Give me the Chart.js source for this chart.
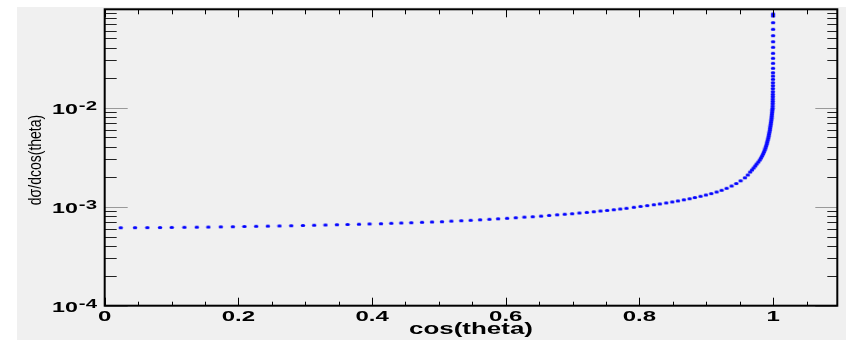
<!DOCTYPE html>
<html>
<head>
<meta charset="utf-8">
<script src="https://cdn.jsdelivr.net/npm/chart.js@4.4.1/dist/chart.umd.min.js"></script>
<style>
  html, body { margin: 0; padding: 0; background: #fff; }
  canvas { display: block; }
</style>
</head>
<body>
<canvas id="canva1" width="846" height="342"></canvas>
<script>
// valeurs : cos(theta) et dsigma/dcos(theta)
const cosTheta = [
    0.0240, 0.0454, 0.0638, 0.0828, 0.1003, 0.1192, 0.1378, 0.1551, 0.1737, 0.1917, 0.2090, 0.2266,
    0.2441, 0.2615, 0.2790, 0.2965, 0.3134, 0.3303, 0.3474, 0.3633, 0.3804, 0.3962, 0.4133,
    0.4287, 0.4437, 0.4587, 0.4747, 0.4897, 0.5046, 0.5186, 0.5335, 0.5475, 0.5616, 0.5755, 0.5885,
    0.6020, 0.6149, 0.6279, 0.6403, 0.6529, 0.6649, 0.6769, 0.6882, 0.6993, 0.7102, 0.7212, 0.7317,
    0.7417, 0.7517, 0.7616, 0.7712, 0.7806,
    0.7916, 0.8016, 0.8116, 0.8215, 0.8305, 0.8401, 0.8491, 0.8575, 0.8664, 0.8750, 0.8829, 0.8914,
    0.8994, 0.9075, 0.9154, 0.9229, 0.9304, 0.9379, 0.9449, 0.9513, 0.9578, 0.9621,
    0.9656, 0.9683, 0.9708, 0.9732, 0.9753, 0.9778, 0.9799, 0.9817, 0.9834, 0.9849, 0.9862, 0.9874,
    0.9885, 0.9895, 0.9904, 0.9912, 0.9919, 0.9927, 0.9933, 0.9939, 0.9945, 0.9951, 0.9955, 0.9960,
    0.9964, 0.9969, 0.9973, 0.9976, 0.9979, 0.9982, 0.9985, 0.9988,
    0.9991, 0.9992, 0.9993, 0.99935, 0.9994, 0.99945, 0.9995, 0.99955, 0.9996, 0.99965, 0.9997, 0.99973,
    0.99976, 0.99979, 0.99982, 0.99985, 0.99987, 0.99989, 0.99991, 0.99993, 0.99995, 0.99996, 0.99997,
    0.99998, 0.99999
];
const dSigma = [
    6.135e-4, 6.142e-4, 6.149e-4, 6.163e-4, 6.178e-4, 6.192e-4, 6.213e-4, 6.235e-4, 6.258e-4, 6.280e-4, 6.310e-4, 6.339e-4,
    6.368e-4, 6.399e-4, 6.429e-4, 6.466e-4, 6.503e-4, 6.542e-4, 6.580e-4, 6.618e-4, 6.657e-4, 6.697e-4, 6.735e-4,
    6.798e-4, 6.846e-4, 6.894e-4, 6.958e-4, 7.008e-4, 7.056e-4, 7.154e-4, 7.222e-4, 7.289e-4, 7.375e-4, 7.460e-4, 7.548e-4,
    7.635e-4, 7.743e-4, 7.851e-4, 7.925e-4, 8.036e-4, 8.167e-4, 8.283e-4, 8.398e-4, 8.497e-4, 8.637e-4, 8.758e-4, 8.903e-4,
    9.049e-4, 9.176e-4, 9.326e-4, 9.480e-4, 9.634e-4,
    9.861e-4, 1.0070e-3, 1.0259e-3, 1.0476e-3, 1.0673e-3, 1.0924e-3, 1.1181e-3, 1.1444e-3, 1.1740e-3, 1.2044e-3, 1.2385e-3, 1.2737e-3,
    1.3128e-3, 1.3561e-3, 1.4076e-3, 1.4645e-3, 1.5343e-3, 1.6185e-3, 1.7151e-3, 1.8260e-3, 1.9583e-3, 2.0902e-3,
    2.241e-3, 2.348e-3, 2.460e-3, 2.577e-3, 2.699e-3, 2.828e-3, 2.962e-3, 3.103e-3, 3.251e-3, 3.406e-3, 3.568e-3, 3.738e-3,
    3.916e-3, 4.102e-3, 4.298e-3, 4.502e-3, 4.717e-3, 4.941e-3, 5.176e-3, 5.423e-3, 5.681e-3, 5.951e-3, 6.235e-3, 6.531e-3,
    6.842e-3, 7.168e-3, 7.509e-3, 7.867e-3, 8.241e-3, 8.634e-3, 9.045e-3, 9.476e-3,
    9.861e-3, 1.040e-2, 1.098e-2, 1.160e-2, 1.224e-2, 1.292e-2, 1.366e-2, 1.451e-2, 1.556e-2, 1.668e-2, 1.788e-2, 1.936e-2,
    2.090e-2, 2.257e-2, 2.500e-2, 2.809e-2, 3.155e-2, 3.544e-2, 4.075e-2, 4.642e-2, 5.339e-2, 6.193e-2, 7.222e-2,
    8.438e-2, 8.840e-2
];

// graduations
const ticksX = [0, 0.2, 0.4, 0.6, 0.8, 1];
const labelsX = ['0', '0.2', '0.4', '0.6', '0.8', '1'];
const ticksXMineurs = [0.05, 0.1, 0.15, 0.25, 0.3, 0.35, 0.45, 0.5, 0.55, 0.65, 0.7, 0.75, 0.85, 0.9, 0.95, 1.05];
const ticksY = [1e-4, 1e-3, 1e-2];
const exposantsY = ['-4', '-3', '-2'];
const ticksYMineurs = [
    2e-4, 3e-4, 4e-4, 5e-4, 6e-4, 7e-4, 8e-4, 9e-4,
    2e-3, 3e-3, 4e-3, 5e-3, 6e-3, 7e-3, 8e-3, 9e-3,
    2e-2, 3e-2, 4e-2, 5e-2, 6e-2, 7e-2, 8e-2, 9e-2
];
const titreX = 'cos(theta)';
const titreY = 'dσ/dcos(theta)';

const police = '"Liberation Sans", Arial, sans-serif';

// petit point bleu un peu aplati (marqueur ROOT)
const marqueur = document.createElement('canvas');
marqueur.width = 6;
marqueur.height = 5;
const mc = marqueur.getContext('2d');
mc.fillStyle = '#0000ff';
mc.beginPath();
mc.ellipse(3, 2.5, 2.3, 1.6, 0, 0, 2 * Math.PI);
mc.fill();

function trait(ctx, x1, y1, x2, y2) {
    ctx.beginPath();
    ctx.moveTo(x1, y1);
    ctx.lineTo(x2, y2);
    ctx.stroke();
}

// texte étiré horizontalement comme sur l'image
function texte(ctx, str, x, y, font, sx, align) {
    ctx.save();
    ctx.translate(x, y);
    ctx.scale(sx, 1);
    ctx.font = font;
    ctx.textAlign = align;
    ctx.fillText(str, 0, 0);
    const w = ctx.measureText(str).width * sx;
    ctx.restore();
    return w;
}

const cadreRoot = {
    id: 'cadreRoot',
    beforeDraw(chart) {
        const ctx = chart.ctx;
        ctx.save();
        ctx.fillStyle = '#ffffff';
        ctx.fillRect(0, 0, chart.width, chart.height);
        ctx.fillStyle = '#f0f0f0';
        ctx.fillRect(17, 7, chart.width - 17, 333);
        ctx.restore();
    },
    afterDraw(chart) {
        const ctx = chart.ctx;
        const a = chart.chartArea;
        const x = chart.scales.x;
        const y = chart.scales.y;
        ctx.save();
        ctx.lineWidth = 1;

        // graduations x (vers l'intérieur)
        ctx.strokeStyle = '#000';
        ticksX.forEach(v => {
            const px = Math.round(x.getPixelForValue(v)) + 0.5;
            trait(ctx, px, a.bottom, px, a.bottom - 8);
            trait(ctx, px, a.top, px, a.top + 8);
        });
        ticksXMineurs.forEach(v => {
            const px = Math.round(x.getPixelForValue(v)) + 0.5;
            trait(ctx, px, a.bottom, px, a.bottom - 4);
            trait(ctx, px, a.top, px, a.top + 5);
        });

        // graduations y
        ctx.strokeStyle = '#999';
        ticksY.forEach(v => {
            const py = Math.round(y.getPixelForValue(v)) + 0.5;
            trait(ctx, a.left, py, a.left + 23, py);
            trait(ctx, a.right, py, a.right - 22, py);
        });
        ctx.strokeStyle = '#222';
        ticksYMineurs.forEach(v => {
            const py = Math.round(y.getPixelForValue(v)) + 0.5;
            trait(ctx, a.left, py, a.left + 12, py);
            trait(ctx, a.right, py, a.right - 10, py);
        });

        // cadre
        ctx.strokeStyle = '#000';
        ctx.lineWidth = 2;
        ctx.strokeRect(a.left, a.top, a.right - a.left, a.bottom - a.top);

        // étiquettes
        ctx.fillStyle = '#000';
        ctx.textBaseline = 'alphabetic';
        ticksX.forEach((v, i) => {
            texte(ctx, labelsX[i], x.getPixelForValue(v), 321, 'bold 15px ' + police, 1.6, 'center');
        });
        ticksY.forEach((v, i) => {
            const py = y.getPixelForValue(v);
            const w = texte(ctx, exposantsY[i], 97, py + 2, 'bold 12px ' + police, 1.7, 'right');
            texte(ctx, '10', 97 - w - 1, py + 6, 'bold 15px ' + police, 1.55, 'right');
        });

        // titres des axes
        texte(ctx, titreX, (a.left + a.right) / 2, 334, 'bold 16px ' + police, 1.62, 'center');
        ctx.save();
        ctx.translate(40.5, 160);
        ctx.rotate(-Math.PI / 2);
        ctx.scale(1, 1.3);
        ctx.font = '14px ' + police;
        ctx.textAlign = 'center';
        ctx.fillText(titreY, 0, 0);
        ctx.restore();

        ctx.restore();
    }
};

const points = cosTheta.map((c, i) => ({ x: c, y: dSigma[i] }));

const ctx = document.querySelector('#canva1');
new Chart(ctx, {
    type: 'scatter',
    data: {
        datasets: [{
            data: points,
            pointStyle: marqueur,
            pointRadius: 2,
            borderWidth: 0,
            backgroundColor: '#0000ff'
        }]
    },
    options: {
        responsive: false,
        animation: false,
        devicePixelRatio: 1,
        layout: { padding: { left: 104.7, top: 9.3, right: 8.7, bottom: 36.3 } },
        scales: {
            x: { type: 'linear', display: false, min: 0, max: 1.096 },
            y: { type: 'logarithmic', display: false, min: 1e-4, max: 0.0986 }
        },
        plugins: {
            legend: { display: false },
            tooltip: { enabled: false }
        }
    },
    plugins: [cadreRoot]
});
</script>
</body>
</html>
